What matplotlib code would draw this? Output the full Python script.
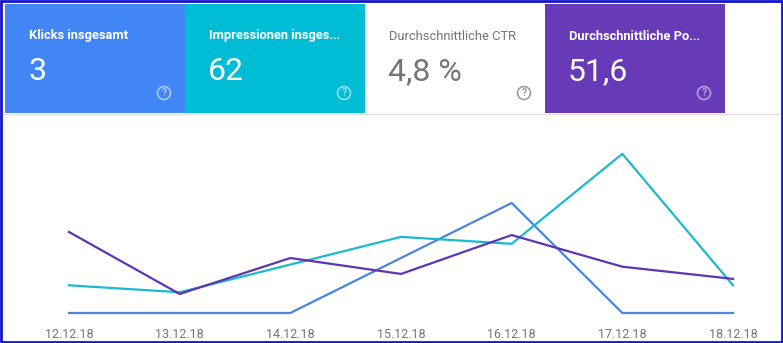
import numpy as np
import matplotlib.pyplot as plt
from matplotlib.patches import Rectangle, Circle

plt.rcParams['font.family'] = ['Roboto', 'DejaVu Sans']

# daily data, 12.12.18 - 18.12.18
dates = ['12.12.18', '13.12.18', '14.12.18', '15.12.18', '16.12.18', '17.12.18', '18.12.18']
clicks = [0, 0, 0, 1, 2, 0, 0]
impressions = [4, 3, 7, 11, 10, 23, 4]
position = [38.0, 68.0, 50.6, 58.3, 39.5, 54.8, 60.7]

# summary cards
card_titles = ['Klicks insgesamt', 'Impressionen insges...', 'Durchschnittliche CTR', 'Durchschnittliche Po...']
card_values = ['3', '62', '4,8 %', '51,6']
card_colors = ['#4285f4', '#00bcd4', '#ffffff', '#673ab7']
card_active = [True, True, False, True]

W, H = 783, 343
fig = plt.figure(figsize=(W / 100, H / 100), dpi=100)
fig.patch.set_facecolor('white')

# background layer in pixel coordinates
bg = fig.add_axes([0, 0, 1, 1])
bg.set_xlim(0, W)
bg.set_ylim(H, 0)
bg.axis('off')

card_w = 180
icon_cols = ['#a9c7fb', '#8ee3ee', '#9e9e9e', '#b39ddb']
for i, (title, val, col, active) in enumerate(zip(card_titles, card_values, card_colors, card_active)):
    x0 = 5 + i * card_w
    bg.add_patch(Rectangle((x0, 4), card_w, 109, facecolor=col, edgecolor='none'))
    tc = 'white' if active else '#757575'
    vc = 'white' if active else '#757575'
    bg.text(x0 + 24, 36, title, color=tc, fontsize=9.3,
            fontweight='bold' if active else 'normal', va='center', ha='left')
    bg.text(x0 + 23, 72, val, color=vc, fontsize=23, va='center', ha='left')
    ic = icon_cols[i]
    bg.add_patch(Circle((x0 + 159, 93), 6.5, facecolor='none', edgecolor=ic, lw=1.2))
    bg.text(x0 + 159, 93.5, '?', color=ic, fontsize=7.5, fontweight='bold', ha='center', va='center')

bg.plot([3, 780], [113.5, 113.5], color='#e0e0e0', lw=1)
bg.add_patch(Rectangle((1, 1), W - 2, H - 2, facecolor='none', edgecolor='#1515d0', lw=2))

# chart
x = np.arange(len(dates))
left, right, top, bottom = 69, 733, 140, 313
rect = [left / W, (H - bottom) / H, (right - left) / W, (bottom - top) / H]

ax = fig.add_axes(rect)
ax.patch.set_visible(False)
ax.plot(x, clicks, color='#4a85e0', lw=1.6, clip_on=False, zorder=3)
ax.set_ylim(0, 3.145)
ax.set_xlim(0, len(dates) - 1)
ax.set_xticks(x)
ax.set_xticklabels(dates)
ax.tick_params(axis='x', length=0, pad=11, labelsize=9, labelcolor='#757575')
ax.set_yticks([])
for s in ax.spines.values():
    s.set_visible(False)

ax2 = ax.twinx()
ax2.plot(x, impressions, color='#1ab9cf', lw=1.6, clip_on=False, zorder=3)
ax2.set_ylim(0, 25.0)
ax2.set_yticks([])

ax3 = ax.twinx()
ax3.plot(x, position, color='#5e35b1', lw=1.6, clip_on=False, zorder=3)
ax3.set_ylim(77.2, -6.5)
ax3.set_yticks([])

for a in (ax2, ax3):
    for s in a.spines.values():
        s.set_visible(False)

fig.savefig('out.png', dpi=100, facecolor='white')
